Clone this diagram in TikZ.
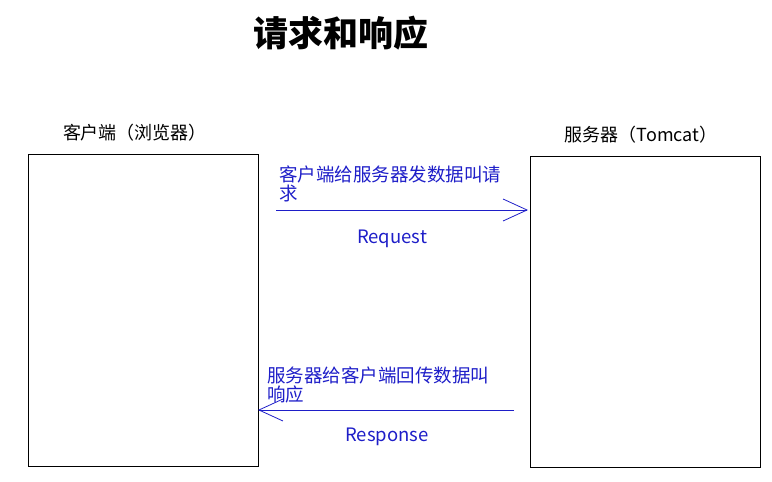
\documentclass[tikz,border=0pt]{standalone}
\usepackage{fontspec}
\setmainfont{Noto Sans CJK SC}
\usetikzlibrary{arrows.meta}
\definecolor{ablue}{RGB}{30,30,200}
\begin{document}
\begin{tikzpicture}[x=1pt,y=-1pt,
  box/.style={draw,line width=0.8pt},
  lbl/.style={font=\fontsize{18}{20}\selectfont},
  bl/.style={text=ablue,font=\fontsize{18.5}{17}\selectfont,align=left,inner sep=0pt},
  arr/.style={draw=ablue,line width=0.8pt,-{Straight Barb[length=24pt,width=22pt,line width=0.8pt]}}]
\useasboundingbox (0,0) rectangle (772,482);
\node[font=\fontsize{35}{38}\selectfont\bfseries] (title) at (341,33) {请求和响应};
\draw[box] (28,154) rectangle (258,466);
\coordinate (cl) at (258,410);
\draw[box] (530,156) rectangle (760,467);
\coordinate (sr) at (528,210);
\node[lbl] (client) at (135,133) {客户端（浏览器）};
\node[lbl] (server) at (641,135) {服务器（Tomcat）};
\coordinate (rqs) at (276,210);
\coordinate (rps) at (514,410);
\draw[arr] (rqs) -- (sr);
\draw[arr] (rps) -- (cl);
\node[bl,anchor=north west] (t1) at (279,166) {客户端给服务器发数据叫请\\求};
\node[bl] (t2) at (392,239) {Request};
\node[bl,anchor=north west] (t3) at (267,367) {服务器给客户端回传数据叫\\响应};
\node[bl] (t4) at (387,437) {Response};
\end{tikzpicture}
\end{document}
